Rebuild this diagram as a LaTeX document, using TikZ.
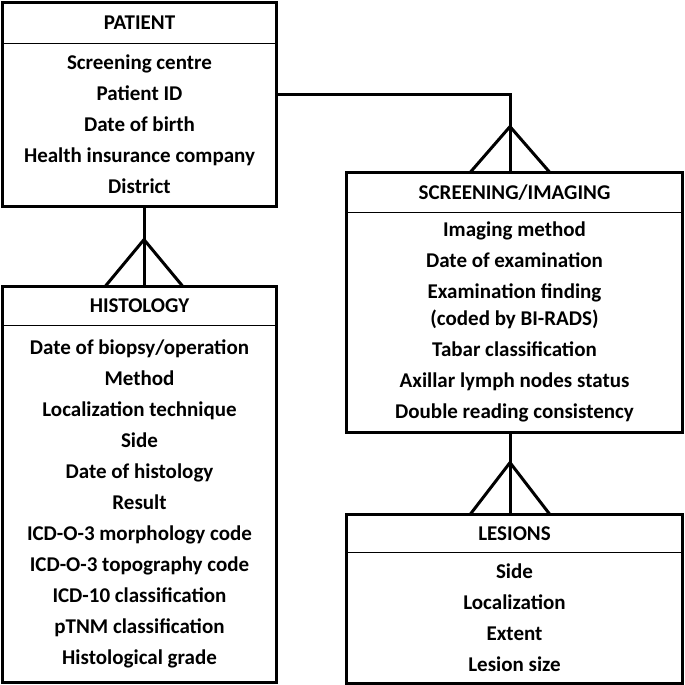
\documentclass[tikz,border=0pt]{standalone}
\usepackage{fontspec}
\setmainfont{Carlito}
\tikzset{
  txt/.style={inner sep=0pt,font=\bfseries\fontsize{10.5}{15.5}\selectfont},
  frame/.style={line width=1.5pt},
  split/.style={line width=0.7pt},
  link/.style={line width=1.5pt}
}

\begin{document}
\begin{tikzpicture}[x=0.5pt,y=-0.5pt,
    head/.style={txt,minimum width=#1},
    body/.style={txt,align=center,minimum width=#1}]
  \useasboundingbox (0,0) rectangle (685,685);

  % patient
  \node[head=136.5pt,minimum height=20pt] (patient-head) at (139.5,23) {PATIENT};
  \node[body=136.5pt,minimum height=81.5pt] (patient-body) at (139.5,124.5)
    {Screening centre\\Patient ID\\Date of birth\\Health insurance company\\District};
  \draw[frame] (patient-head.north west) rectangle (patient-body.south east);
  \draw[split] (patient-head.south west) -- (patient-head.south east);

  % histology
  \node[head=136.5pt,minimum height=19pt] (histo-head) at (139.5,306) {HISTOLOGY};
  \node[body=136.5pt,minimum height=178.5pt] (histo-body) at (139.5,503.5)
    {Date of biopsy/operation\\Method\\Localization technique\\Side\\Date of histology\\Result\\
     ICD-O-3 morphology code\\ICD-O-3 topography code\\ICD-10 classification\\pTNM classification\\Histological grade};
  \draw[frame] (histo-head.north west) rectangle (histo-body.south east);
  \draw[split] (histo-head.south west) -- (histo-head.south east);

  % screening/imaging
  \node[head=167.5pt,minimum height=19.5pt] (screen-head) at (514.5,192.5) {SCREENING/IMAGING};
  \node[body=167.5pt,minimum height=110pt] (screen-body) at (514.5,322)
    {Imaging method\\Date of examination\\Examination finding\\[-2pt](coded by BI-RADS)\\Tabar classification\\
     Axillar lymph nodes status\\Double reading consistency};
  \draw[frame] (screen-head.north west) rectangle (screen-body.south east);
  \draw[split] (screen-head.south west) -- (screen-head.south east);

  % lesions
  \node[head=167.5pt,minimum height=18.5pt] (lesion-head) at (514.5,533.5) {LESIONS};
  \node[body=167.5pt,minimum height=65.5pt] (lesion-body) at (514.5,617.5)
    {Side\\Localization\\Extent\\Lesion size};
  \draw[frame] (lesion-head.north west) rectangle (lesion-body.south east);
  \draw[split] (lesion-head.south west) -- (lesion-head.south east);

  % links
  \draw[link] ([xshift=2.25pt]patient-body.south) -- ([xshift=2.25pt]histo-head.north);
  \draw[link] ([xshift=2.25pt]histo-head.north) ++(-39,0) -- ++(39,-47) -- ++(39,47);

  \draw[link] (patient-body.east |- 0,94) -| ([xshift=-2.25pt]screen-head.north);
  \draw[link] ([xshift=-2.25pt]screen-head.north) ++(-40,0) -- ++(40,-46) -- ++(40,46);

  \draw[link] ([xshift=-2.25pt]screen-body.south) -- ([xshift=-2.25pt]lesion-head.north);
  \draw[link] ([xshift=-2.25pt]lesion-head.north) ++(-40,0) -- ++(40,-52) -- ++(40,52);
\end{tikzpicture}
\end{document}
